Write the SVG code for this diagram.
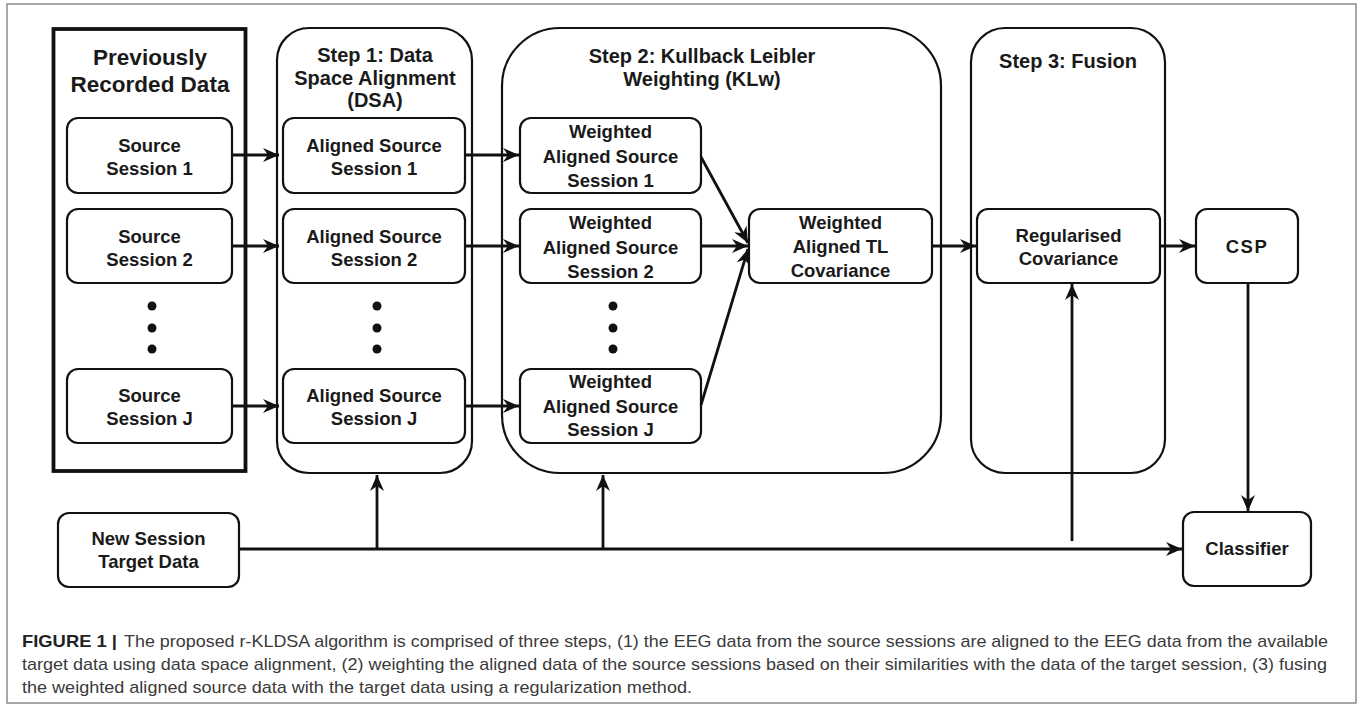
<svg xmlns="http://www.w3.org/2000/svg" width="1363" height="710" viewBox="0 0 1363 710">
<style>
.frame{fill:none;stroke:#8a8a8a;stroke-width:1.5}
.cont{fill:none;stroke:#111;stroke-width:2.2}
.prev{fill:none;stroke:#111;stroke-width:3.8}
.node{fill:#fff;stroke:#111;stroke-width:2.2}
.t{font-family:"Liberation Sans",Arial,sans-serif;font-weight:bold;font-size:18.5px;fill:#1a1a1a;text-anchor:middle}
.h{font-family:"Liberation Sans",Arial,sans-serif;font-weight:bold;font-size:20px;fill:#1a1a1a;text-anchor:middle}
.hp{font-family:"Liberation Sans",Arial,sans-serif;font-weight:bold;font-size:22.5px;fill:#1a1a1a;text-anchor:middle}
.cap{font-family:"Liberation Sans",Arial,sans-serif;font-size:17px;fill:#3a3a3a}
.capb{font-family:"Liberation Sans",Arial,sans-serif;font-size:17px;font-weight:bold;fill:#222}
.c{fill:none;stroke:#111;stroke-width:2.8}
.ca{fill:none;stroke:#111;stroke-width:2.8;marker-end:url(#ah)}
.dot{fill:#111}
</style>
<defs>
<marker id="ah" markerUnits="userSpaceOnUse" markerWidth="17" markerHeight="15" refX="16" refY="7.5" orient="auto">
<path d="M0,0.5 L16,7.5 L0,14.5 L5,7.5 z" fill="#111"/>
</marker>
</defs>
<rect width="1363" height="710" fill="#fff"/>
<rect class="frame" x="7" y="4" width="1349" height="699"/>

<g id="previously-recorded">
<rect class="prev" x="53.5" y="29" width="192" height="442"/>
<text class="hp" x="150" y="65">Previously</text>
<text class="hp" x="150" y="92">Recorded Data</text>
</g>
<g id="source-1">
<rect class="node" x="67" y="118" width="165" height="75" rx="11"/>
<text class="t" x="149.5" y="152">Source</text>
<text class="t" x="149.5" y="175">Session 1</text>
</g>
<g id="source-2">
<rect class="node" x="67" y="209" width="165" height="74" rx="11"/>
<text class="t" x="149.5" y="243">Source</text>
<text class="t" x="149.5" y="266">Session 2</text>
</g>
<g id="source-dots">
<circle class="dot" cx="152" cy="306" r="4.5"/>
<circle class="dot" cx="152" cy="328" r="4.5"/>
<circle class="dot" cx="152" cy="349" r="4.5"/>
</g>
<g id="source-j">
<rect class="node" x="67" y="369" width="165" height="74" rx="11"/>
<text class="t" x="149.5" y="402">Source</text>
<text class="t" x="149.5" y="425">Session J</text>
</g>

<g id="step1">
<rect class="cont" x="277" y="28" width="195" height="445" rx="32"/>
<text class="h" x="375" y="62">Step 1: Data</text>
<text class="h" x="375" y="85">Space Alignment</text>
<text class="h" x="375" y="107">(DSA)</text>
</g>
<g id="aligned-1">
<rect class="node" x="283" y="118" width="182" height="75" rx="11"/>
<text class="t" x="374" y="152">Aligned Source</text>
<text class="t" x="374" y="175">Session 1</text>
</g>
<g id="aligned-2">
<rect class="node" x="283" y="209" width="182" height="74" rx="11"/>
<text class="t" x="374" y="243">Aligned Source</text>
<text class="t" x="374" y="266">Session 2</text>
</g>
<g id="aligned-dots">
<circle class="dot" cx="377" cy="306" r="4.5"/>
<circle class="dot" cx="377" cy="328" r="4.5"/>
<circle class="dot" cx="377" cy="349" r="4.5"/>
</g>
<g id="aligned-j">
<rect class="node" x="283" y="369" width="182" height="74" rx="11"/>
<text class="t" x="374" y="402">Aligned Source</text>
<text class="t" x="374" y="425">Session J</text>
</g>

<g id="step2">
<rect class="cont" x="502" y="28" width="439" height="445" rx="58"/>
<text class="h" x="702" y="63">Step 2: Kullback Leibler</text>
<text class="h" x="702" y="86">Weighting (KLw)</text>
</g>
<g id="weighted-1">
<rect class="node" x="520" y="118" width="181" height="75" rx="11"/>
<text class="t" x="610.5" y="138">Weighted</text>
<text class="t" x="610.5" y="163">Aligned Source</text>
<text class="t" x="610.5" y="187">Session 1</text>
</g>
<g id="weighted-2">
<rect class="node" x="520" y="209" width="181" height="74" rx="11"/>
<text class="t" x="610.5" y="229">Weighted</text>
<text class="t" x="610.5" y="254">Aligned Source</text>
<text class="t" x="610.5" y="278">Session 2</text>
</g>
<g id="weighted-dots">
<circle class="dot" cx="613" cy="306" r="4.5"/>
<circle class="dot" cx="613" cy="328" r="4.5"/>
<circle class="dot" cx="613" cy="349" r="4.5"/>
</g>
<g id="weighted-j">
<rect class="node" x="520" y="369" width="181" height="74" rx="11"/>
<text class="t" x="610.5" y="388">Weighted</text>
<text class="t" x="610.5" y="413">Aligned Source</text>
<text class="t" x="610.5" y="436">Session J</text>
</g>
<g id="tl-covariance">
<rect class="node" x="749" y="209" width="183" height="74" rx="11"/>
<text class="t" x="840.5" y="229">Weighted</text>
<text class="t" x="840.5" y="253">Aligned TL</text>
<text class="t" x="840.5" y="277">Covariance</text>
</g>

<g id="step3">
<rect class="cont" x="971" y="28" width="194" height="445" rx="34"/>
<text class="h" x="1068" y="68">Step 3: Fusion</text>
</g>
<g id="regularised">
<rect class="node" x="977" y="209" width="183" height="74" rx="11"/>
<text class="t" x="1068.5" y="242">Regularised</text>
<text class="t" x="1068.5" y="265">Covariance</text>
</g>
<g id="csp">
<rect class="node" x="1196" y="209" width="102" height="74" rx="11"/>
<text class="t" x="1247" y="253" letter-spacing="1.5">CSP</text>
</g>
<g id="new-session">
<rect class="node" x="58" y="513" width="181" height="74" rx="11"/>
<text class="t" x="148.5" y="545">New Session</text>
<text class="t" x="148.5" y="568">Target Data</text>
</g>
<g id="classifier">
<rect class="node" x="1183" y="512" width="128" height="74" rx="11"/>
<text class="t" x="1247" y="555">Classifier</text>
</g>

<g id="connectors">
<line class="ca" x1="232" y1="155" x2="279" y2="155"/>
<line class="ca" x1="232" y1="246" x2="279" y2="246"/>
<line class="ca" x1="232" y1="406" x2="279" y2="406"/>
<line class="ca" x1="465" y1="155" x2="519" y2="155"/>
<line class="ca" x1="465" y1="246" x2="519" y2="246"/>
<line class="ca" x1="465" y1="406" x2="519" y2="406"/>
<line class="ca" x1="701" y1="157" x2="748" y2="243"/>
<line class="ca" x1="701" y1="246" x2="748" y2="246"/>
<line class="ca" x1="701" y1="405" x2="748" y2="249"/>
<line class="ca" x1="932" y1="246" x2="976" y2="246"/>
<line class="ca" x1="1160" y1="246" x2="1195" y2="246"/>
<line class="ca" x1="1248" y1="283" x2="1248" y2="511"/>
<line class="ca" x1="239" y1="549" x2="1182" y2="549"/>
<line class="ca" x1="377" y1="549" x2="377" y2="475"/>
<line class="ca" x1="603" y1="549" x2="603" y2="475"/>
<line class="ca" x1="1072" y1="541" x2="1072" y2="284"/>
</g>

<g id="caption">
<text class="capb" x="22" y="647" textLength="95" lengthAdjust="spacingAndGlyphs">FIGURE 1 |</text>
<text class="cap" x="124" y="647" textLength="1204" lengthAdjust="spacingAndGlyphs">The proposed r-KLDSA algorithm is comprised of three steps, (1) the EEG data from the source sessions are aligned to the EEG data from the available</text>
<text class="cap" x="22" y="670" textLength="1305" lengthAdjust="spacingAndGlyphs">target data using data space alignment, (2) weighting the aligned data of the source sessions based on their similarities with the data of the target session, (3) fusing</text>
<text class="cap" x="22" y="693" textLength="670" lengthAdjust="spacingAndGlyphs">the weighted aligned source data with the target data using a regularization method.</text>
</g>
</svg>
